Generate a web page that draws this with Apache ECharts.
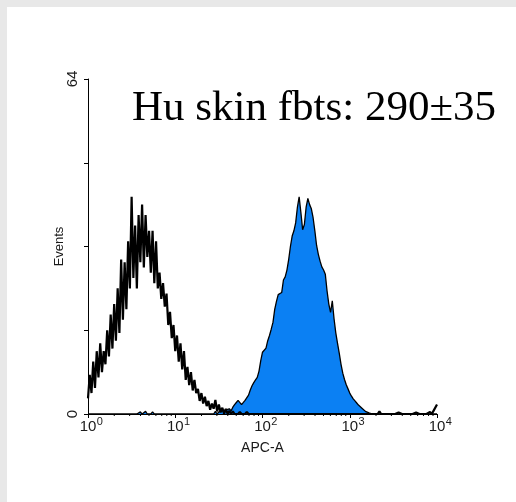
<!DOCTYPE html>
<html>
<head>
<meta charset="utf-8">
<script src="https://cdn.jsdelivr.net/npm/echarts@6/dist/echarts.min.js"></script>
<style>
    html, body { margin: 0; padding: 0; background: #e8e8e8; }
    #chart { position: absolute; left: 7px; top: 7px; width: 509px; height: 495px; background: #fff; }
</style>
</head>
<body>
<div id="chart"></div>
<script>
    // channel width in decades (x axis is log10 of APC-A)
    const binWidth = 0.02;
    const decades = [0, 1, 2, 3, 4];
    const minorSteps = [2, 3, 4, 5, 6, 7, 8, 9];
    const yLabelValues = [0, 64];

    // unstained control (black outline), one value per channel
    const unstained = [
        3, 7.5, 4, 10, 5, 12, 7, 13.5, 8, 12,
        9.5, 16, 11, 19, 12.5, 21, 14, 24, 15.5, 29.5,
        18, 29, 20, 33, 24, 41.5, 26, 36, 24, 38,
        29, 40, 28, 38, 30, 35, 27, 35, 25, 33,
        24, 27, 22, 25, 20.5, 23, 17, 19.5, 14.5, 17,
        12, 15, 10, 13.5, 8.5, 12, 6.5, 9, 5.5, 8,
        4.5, 6.5, 4, 4.8, 2.5, 4, 2, 3.3, 1.5, 2.5,
        0.8, 2, 1, 2.7, 0.5, 1.8, 0.3, 1.2, 0, 1,
        0, 0.6, 0, 0.5, 0, 0.3, 0, 0.4, 0, 0.3,
        0, 0.4, 0, 0, 0, 0, 0, 0, 0, 0,
        0, 0, 0, 0, 0, 0, 0, 0, 0, 0,
        0, 0, 0, 0, 0, 0, 0, 0, 0, 0,
        0, 0, 0, 0, 0, 0, 0, 0, 0, 0,
        0, 0, 0, 0, 0, 0, 0, 0, 0, 0,
        0, 0, 0, 0, 0, 0, 0, 0, 0, 0,
        0, 0, 0, 0, 0, 0, 0, 0, 0, 0,
        0, 0, 0, 0, 0, 0, 0, 0.5, 0, 0,
        0, 0, 0, 0, 0, 0, 0, 0, 0.3, 0,
        0, 0, 0, 0, 0, 0, 0, 0, 0.3, 0,
        0, 0, 0, 0, 0, 0, 0.4, 0, 0.6, 0.9,
        1.8
    ];

    // Hu skin fibroblasts stained (blue filled)
    const stained = [
        0, 0, 0, 0, 0, 0, 0, 0, 0, 0,
        0, 0, 0, 0, 0, 0, 0, 0, 0, 0,
        0, 0, 0, 0, 0, 0, 0, 0, 0, 0,
        0.4, 0, 0, 0.5, 0, 0, 0, 0.4, 0, 0,
        0, 0, 0, 0, 0, 0, 0, 0, 0, 0,
        0, 0, 0, 0, 0, 0, 0, 0, 0, 0,
        0, 0, 0, 0, 0, 0, 0, 0, 0, 0,
        0, 0.3, 0, 0.5, 0, 0.4, 0.3, 0.6, 0.3, 0.8,
        0.5, 1.0, 0.6, 1.3, 1.8, 2.2, 2.6, 2.7, 1.8, 2.0,
        2.6, 2.8, 3.6, 4.6, 5.4, 6.0, 6.5, 7.0, 8.2, 10.2,
        11.8, 12.0, 12.6, 14.0, 15.0, 16.2, 17.5, 20.0, 21.5, 22.8,
        23.0, 23.2, 25.6, 26.2, 27.5, 29.5, 32, 34, 35, 36.5,
        39.5, 41.5, 38.5, 35.2, 36.2, 39.5, 41.2, 40, 39.2, 37.5,
        35, 32.2, 30.5, 29.2, 28.1, 27.5, 26.7, 23.5, 21, 19.4,
        21.6, 18.2, 15.5, 13.5, 11.6, 9.5, 7.8, 6.6, 5.6, 4.8,
        4.0, 3.4, 2.9, 2.5, 2.1, 1.7, 1.4, 1.1, 0.8, 0.5,
        0.4, 0.2, 0, 0, 0, 0, 0, 0, 0, 0,
        0, 0, 0, 0, 0, 0, 0, 0, 0, 0,
        0, 0, 0, 0, 0, 0, 0, 0, 0, 0,
        0, 0, 0, 0, 0, 0, 0, 0, 0, 0,
        0
    ];

    const toPoints = arr => arr.map((v, i) => [i * binWidth, v]);

    const minorTickData = [];
    decades.slice(0, -1).forEach(d => {
        minorSteps.forEach(m => minorTickData.push([d + Math.log10(m)]));
    });

    const chart = echarts.init(document.getElementById('chart'));
    const labelColor = '#1a1a1a';

    const option = {
        animation: false,
        backgroundColor: '#fff',
        grid: { left: 81, right: 79, top: 72, bottom: 88 },
        graphic: [{
            type: 'text',
            left: 125,
            top: 80,
            style: {
                text: 'Hu skin fbts: 290±35',
                font: '43px "Liberation Serif", "Times New Roman", serif',
                fill: '#000'
            }
        }],
        xAxis: {
            type: 'value',
            min: 0,
            max: 4,
            interval: 1,
            name: 'APC-A',
            nameLocation: 'middle',
            nameGap: 27,
            nameMoveOverlap: false,
            nameTextStyle: { fontSize: 14, fontFamily: 'Liberation Sans, Arial', color: labelColor },
            axisLine: { lineStyle: { color: '#000', width: 1 } },
            axisTick: { length: 4, lineStyle: { color: '#000' } },
            splitLine: { show: false },
            axisLabel: {
                margin: 2,
                color: labelColor,
                fontFamily: 'Liberation Sans, Arial',
                formatter: v => '{gap|}{b|10}{sup|' + v + '}',
                rich: {
                    gap: { width: 7 },
                    b: { fontSize: 15, verticalAlign: 'bottom', fontFamily: 'Liberation Sans, Arial', color: labelColor },
                    sup: { fontSize: 11, width: 7, verticalAlign: 'top', padding: [0, 0, 7, 0], fontFamily: 'Liberation Sans, Arial', color: labelColor }
                }
            }
        },
        yAxis: {
            type: 'value',
            min: 0,
            max: 64,
            interval: 16,
            name: 'Events',
            nameLocation: 'middle',
            nameGap: 22,
            nameRotate: 90,
            nameMoveOverlap: false,
            nameTextStyle: { fontSize: 13, fontFamily: 'Liberation Sans, Arial', color: labelColor },
            axisLine: { show: true, lineStyle: { color: '#000', width: 1 } },
            axisTick: { show: true, length: 4, lineStyle: { color: '#000' } },
            splitLine: { show: false },
            axisLabel: {
                rotate: 90,
                margin: 8,
                fontSize: 15,
                fontFamily: 'Liberation Sans, Arial',
                color: labelColor,
                formatter: v => (yLabelValues.includes(v) ? String(v) : '')
            }
        },
        series: [
            {
                name: 'stained',
                type: 'line',
                data: toPoints(stained),
                symbol: 'none',
                lineStyle: { color: '#000', width: 1.3 },
                areaStyle: { color: '#0b80f3', opacity: 1 },
                z: 2
            },
            {
                name: 'unstained',
                type: 'line',
                data: toPoints(unstained),
                symbol: 'none',
                lineStyle: { color: '#000', width: 2.2 },
                z: 3
            },
            {
                name: 'minorTicks',
                type: 'custom',
                silent: true,
                clip: false,
                z: 4,
                data: minorTickData,
                encode: { x: 0 },
                renderItem: (params, api) => {
                    const p = api.coord([api.value(0), 0]);
                    return {
                        type: 'line',
                        shape: { x1: p[0], y1: p[1], x2: p[0], y2: p[1] + 2 },
                        style: { stroke: '#000', lineWidth: 1 }
                    };
                }
            }
        ]
    };

    chart.setOption(option);
</script>
</body>
</html>
